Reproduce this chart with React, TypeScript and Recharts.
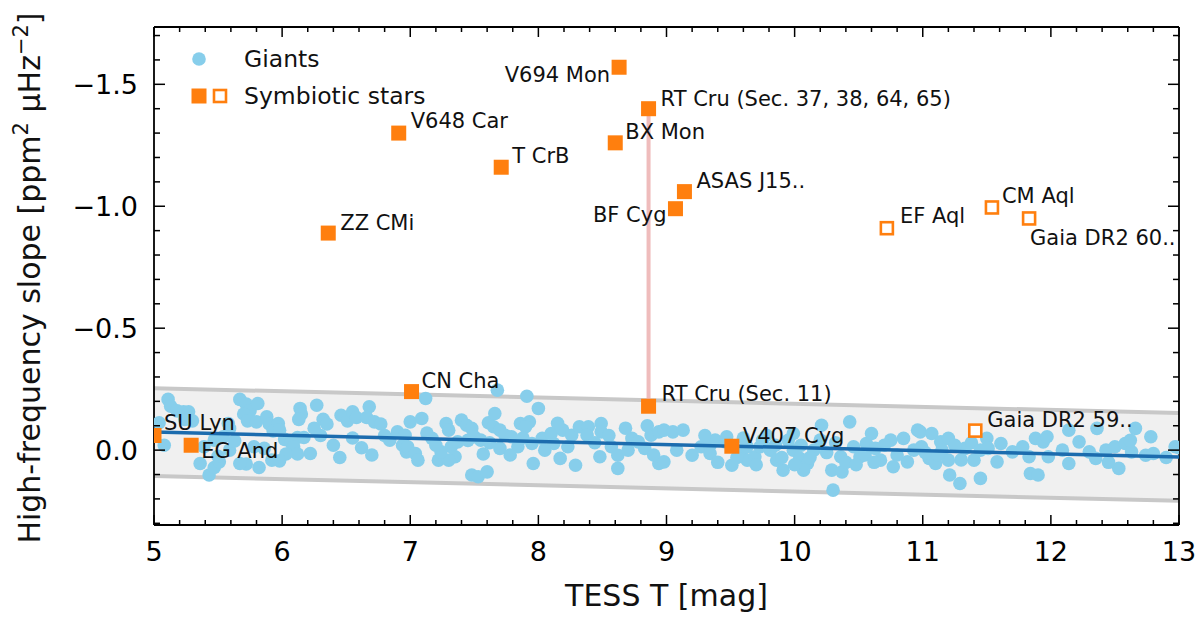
import React from 'react';
import { ComposedChart, Scatter, Area, Line, XAxis, YAxis, Legend, Label } from 'recharts';

// giants: [TESS mag, high-frequency slope]
const giants: [number, number][] = [
  [5.11, -0.208], [5.13, -0.18], [5.04, -0.112], [5.08, -0.02], [5.18, -0.161], [5.23, -0.157], [5.27, -0.157],
  [5.24, -0.126], [5.3, -0.12], [5.36, 0.055], [5.43, 0.102], [5.47, 0.071], [5.51, 0.048], [5.5, 0.025],
  [5.59, 0.0], [5.67, -0.208], [5.72, -0.189], [5.75, -0.161], [5.81, -0.191], [5.7, -0.148], [5.73, -0.12],
  [5.8, -0.116], [5.88, -0.137], [5.9, -0.107], [5.97, -0.109], [5.93, -0.079], [5.98, -0.082], [6.02, -0.044],
  [6.07, -0.03], [6.12, -0.052], [6.09, -0.014], [6.17, -0.052], [6.14, -0.171], [6.15, -0.148], [6.13, -0.126],
  [6.22, 0.014], [6.12, 0.016], [6.03, 0.016], [5.98, 0.044], [5.92, 0.041], [5.82, 0.071], [5.72, 0.057],
  [5.67, 0.055], [5.86, -0.007], [5.78, -0.014], [5.63, -0.038], [5.54, -0.055], [5.47, -0.041], [6.27, -0.184],
  [6.32, -0.126], [6.35, -0.107], [6.46, -0.143], [6.51, -0.12], [6.55, -0.157], [6.58, -0.134], [6.68, -0.178],
  [6.66, -0.134], [6.72, -0.116], [6.77, -0.107], [6.84, -0.041], [6.9, -0.075], [6.96, -0.061], [6.97, 0.007],
  [6.94, -0.02], [5.58, -0.109], [5.39, -0.014], [5.59, -0.089],
  [6.3, -0.06], [6.4, -0.02], [6.45, 0.03], [6.55, -0.05], [6.62, -0.01], [6.7, 0.02], [6.8, -0.06], [6.25, -0.09],
  [7.0, -0.116], [7.09, -0.13], [7.12, -0.212], [6.98, -0.014], [7.04, 0.014], [7.06, 0.041], [7.17, -0.048],
  [7.22, 0.041], [7.28, -0.109], [7.3, -0.082], [7.32, -0.014], [7.35, 0.027], [7.3, 0.041], [7.4, -0.123],
  [7.44, -0.102], [7.48, -0.089], [7.5, -0.055], [7.48, 0.102], [7.53, 0.109], [7.6, 0.089], [7.57, 0.016],
  [7.61, -0.112], [7.66, -0.15], [7.68, -0.246], [7.65, -0.096], [7.7, -0.082], [7.74, -0.061], [7.79, -0.055],
  [7.7, -0.007], [7.84, -0.014], [7.86, -0.109], [7.93, -0.116], [7.91, -0.221], [8.0, -0.171], [7.9, -0.096],
  [7.96, 0.055], [7.95, -0.027], [8.03, -0.048], [8.1, -0.068], [8.19, -0.082], [8.12, -0.027], [8.17, 0.034],
  [8.23, -0.014], [8.29, 0.062], [8.26, -0.061], [8.32, -0.096], [8.39, -0.096], [8.38, -0.061], [8.49, -0.109],
  [8.49, -0.075], [8.48, 0.027], [8.57, -0.014], [8.62, 0.075], [8.62, 0.021], [8.73, -0.048], [8.78, -0.034],
  [8.83, -0.007], [8.88, -0.061], [8.94, -0.075], [8.94, 0.055], [7.55, -0.041], [7.37, -0.034], [7.24, 0.007],
  [7.13, -0.07], [7.2, -0.02], [7.45, -0.04], [7.62, -0.03], [7.78, 0.02], [7.88, -0.05], [8.05, 0.0], [8.15, -0.11],
  [8.44, -0.03], [8.55, -0.06], [8.68, -0.09], [8.7, 0.0], [8.85, -0.1], [8.9, 0.02],
  [8.98, -0.082], [8.98, 0.048], [9.05, -0.075], [9.13, -0.082], [9.08, 0.0], [9.2, 0.021], [9.27, -0.014],
  [9.34, -0.02], [9.38, -0.041], [9.46, -0.034], [9.51, 0.062], [9.59, 0.0], [9.63, 0.041], [9.69, 0.027],
  [9.73, -0.014], [9.81, 0.0], [9.91, 0.082], [9.86, 0.041], [9.99, 0.0], [10.04, 0.034], [10.1, 0.055],
  [10.15, 0.0], [10.21, -0.102], [10.2, -0.041], [10.3, 0.164], [10.29, 0.082], [10.36, 0.027], [10.37, 0.089],
  [10.43, -0.116], [10.46, -0.014], [10.51, 0.027], [10.56, -0.027], [10.6, -0.068], [10.67, 0.041], [10.75, -0.041],
  [10.77, 0.068], [10.85, -0.048], [10.93, 0.0], [10.96, -0.082], [9.47, -0.055], [9.78, -0.061], [9.63, -0.014],
  [9.99, -0.068], [10.07, 0.082], [9.34, 0.014], [10.63, -0.007], [10.88, 0.048],
  [9.3, -0.06], [9.4, 0.05], [9.55, 0.03], [9.6, -0.05], [9.7, 0.06], [9.75, -0.04], [9.85, -0.02], [9.9, 0.03],
  [9.95, -0.04], [10.0, 0.06], [10.05, -0.02], [10.12, 0.03], [10.25, 0.01], [10.32, -0.03], [10.4, 0.05],
  [10.48, 0.06], [10.55, 0.02], [10.62, 0.05], [10.7, -0.02], [10.8, 0.02],
  [10.98, -0.075], [11.07, -0.068], [10.99, -0.014], [11.05, 0.034], [11.1, 0.055], [11.14, -0.034], [11.2, -0.048],
  [11.2, 0.041], [11.21, 0.102], [11.29, 0.137], [11.4, 0.041], [11.45, 0.116], [11.5, -0.048], [11.51, -0.007],
  [11.58, 0.048], [11.61, -0.027], [11.7, 0.007], [11.78, -0.014], [11.83, 0.027], [11.84, 0.096], [11.9, 0.102],
  [11.88, -0.048], [11.94, -0.034], [11.97, -0.055], [11.98, 0.027], [12.14, 0.055], [12.14, -0.082], [12.22, -0.034],
  [12.3, 0.007], [12.36, -0.089], [12.43, 0.0], [12.5, -0.014], [12.53, 0.075], [12.58, -0.027], [12.66, -0.089],
  [12.74, 0.021], [12.78, -0.055], [12.8, 0.014], [12.97, -0.014], [11.15, 0.0], [11.33, -0.007], [12.09, 0.0],
  [12.35, 0.034], [12.63, 0.007],
  [11.02, 0.01], [11.12, 0.02], [11.25, -0.02], [11.3, 0.04], [11.38, -0.03], [11.45, 0.0],
  [12.45, 0.05], [12.62, -0.04], [12.9, 0.03], [13.0, -0.01],
];

// symbiotic stars
const starNames = [
  'SU Lyn', 'EG And', 'ZZ CMi', 'V648 Car', 'CN Cha', 'T CrB', 'BX Mon', 'V694 Mon',
  'RT Cru (Sec. 11)', 'RT Cru (Sec. 37, 38, 64, 65)', 'BF Cyg', 'ASAS J15..', 'V407 Cyg',
  'EF Aql', 'Gaia DR2 59..', 'CM Aql', 'Gaia DR2 60..',
];
const starMag = [5.0, 5.29, 6.36, 6.91, 7.01, 7.71, 8.6, 8.63, 8.86, 8.86, 9.07, 9.14, 9.51, 10.72, 11.41, 11.54, 11.83];
const starSlope = [-0.06, -0.02, -0.89, -1.3, -0.24, -1.16, -1.26, -1.57, -0.18, -1.4, -0.99, -1.06, -0.016, -0.91, -0.08, -0.995, -0.95];
const starFilled = [true, true, true, true, true, true, true, true, true, true, true, true, true, false, false, false, false];

// giant trend and its band
const fitMag = [5, 13];
const fitSlope = [-0.074, 0.028];
const bandLow = [-0.254, -0.152];
const bandHigh = [0.106, 0.208];

const xMajorTicks = [5, 6, 7, 8, 9, 10, 11, 12, 13];
const xMinorTicks = [
  5.2, 5.4, 5.6, 5.8, 6.2, 6.4, 6.6, 6.8, 7.2, 7.4, 7.6, 7.8, 8.2, 8.4, 8.6, 8.8, 9.2, 9.4, 9.6, 9.8,
  10.2, 10.4, 10.6, 10.8, 11.2, 11.4, 11.6, 11.8, 12.2, 12.4, 12.6, 12.8,
];
const yMajorTicks = [-1.5, -1.0, -0.5, 0.0];
const yMinorTicks = [-1.7, -1.6, -1.4, -1.3, -1.2, -1.1, -0.9, -0.8, -0.7, -0.6, -0.4, -0.3, -0.2, -0.1, 0.1, 0.2, 0.3];

const X_DOMAIN = [5, 13];
const Y_DOMAIN = [-1.735, 0.307];

const giantData = giants.map(([mag, slope]) => ({ mag, slope }));
const starData = starNames.map((name, i) => ({ name, mag: starMag[i], slope: starSlope[i], filled: starFilled[i] }));
const rtCruData = starData.filter((d) => d.name.startsWith('RT Cru'));
const bandData = fitMag.map((mag, i) => ({ mag, fit: fitSlope[i], band: [bandLow[i], bandHigh[i]] }));
// keeps the mirrored top/right axes attached to a series
const frameData = [
  { mag: X_DOMAIN[0], slope: Y_DOMAIN[0] },
  { mag: X_DOMAIN[1], slope: Y_DOMAIN[1] },
];

const allXTicks = [...xMajorTicks, ...xMinorTicks].sort((a, b) => a - b);
const allYTicks = [...yMajorTicks, ...yMinorTicks].sort((a, b) => a - b);

const FONT = 'DejaVu Sans, sans-serif';
const ORANGE = '#ff7f0e';
const GIANT = '#87ceeb';

// label placement next to each square: dx, dy (baseline), anchor
const labelPlacement: Record<string, [number, number, 'start' | 'end']> = {
  'SU Lyn': [10, -5, 'start'],
  'EG And': [10, 13, 'start'],
  'ZZ CMi': [12, -3, 'start'],
  'V648 Car': [12, -5, 'start'],
  'CN Cha': [10, -4, 'start'],
  'T CrB': [11, -4, 'start'],
  'BX Mon': [10, -4, 'start'],
  'V694 Mon': [-9, 15, 'end'],
  'RT Cru (Sec. 11)': [13, -5, 'start'],
  'RT Cru (Sec. 37, 38, 64, 65)': [12, -3, 'start'],
  'BF Cyg': [-9, 13, 'end'],
  'ASAS J15..': [12, -4, 'start'],
  'V407 Cyg': [11, -3, 'start'],
  'EF Aql': [13, -5, 'start'],
  'Gaia DR2 59..': [12, -4, 'start'],
  'CM Aql': [10, -4, 'start'],
  'Gaia DR2 60..': [1, 27, 'start'],
};

const fmt = (v: number) => v.toFixed(1).replace('-', '\u2212');

const BottomTick = (props: any) => {
  const { x, y, payload } = props;
  const major = Number.isInteger(payload.value);
  return (
    <g>
      <line x1={x} x2={x} y1={y} y2={y - (major ? 10 : 5)} stroke="#000" strokeWidth={1.5} />
      {major && (
        <text x={x} y={y + 36} textAnchor="middle" fontSize={27} fontFamily={FONT} fill="#000">
          {payload.value}
        </text>
      )}
    </g>
  );
};

const TopTick = (props: any) => {
  const { x, y, payload } = props;
  const major = Number.isInteger(payload.value);
  return <line x1={x} x2={x} y1={y} y2={y + (major ? 10 : 5)} stroke="#000" strokeWidth={1.5} />;
};

const LeftTick = (props: any) => {
  const { x, y, payload } = props;
  const major = yMajorTicks.includes(payload.value);
  return (
    <g>
      <line x1={x} x2={x + (major ? 11 : 6)} y1={y} y2={y} stroke="#000" strokeWidth={1.5} />
      {major && (
        <text x={x - 16} y={y + 10} textAnchor="end" fontSize={27} fontFamily={FONT} fill="#000">
          {fmt(payload.value)}
        </text>
      )}
    </g>
  );
};

const RightTick = (props: any) => {
  const { x, y, payload } = props;
  const major = yMajorTicks.includes(payload.value);
  return <line x1={x} x2={x - (major ? 11 : 6)} y1={y} y2={y} stroke="#000" strokeWidth={1.5} />;
};

const GiantDot = (props: any) => <circle cx={props.cx} cy={props.cy} r={6.8} fill={GIANT} />;

const StarMarker = (props: any) => {
  const { cx, cy, payload } = props;
  const [dx, dy, anchor] = labelPlacement[payload.name] || [10, -4, 'start'];
  return (
    <g>
      {payload.filled ? (
        <rect x={cx - 7.5} y={cy - 7.5} width={15} height={15} fill={ORANGE} />
      ) : (
        <rect x={cx - 6} y={cy - 6} width={12} height={12} fill="#fff" stroke={ORANGE} strokeWidth={2.6} />
      )}
      <text x={cx + dx} y={cy + dy} textAnchor={anchor} fontSize={21} fontFamily={FONT} fill="#111">
        {payload.name}
      </text>
    </g>
  );
};

const NoDot = () => <g />;

const LegendBox = () => (
  <svg width={300} height={80} style={{ overflow: 'visible' }}>
    <circle cx={19} cy={23} r={6.8} fill={GIANT} />
    <text x={64} y={31} fontSize={23.5} fontFamily={FONT} fill="#111">Giants</text>
    <rect x={11.5} y={52.5} width={15} height={15} fill={ORANGE} />
    <rect x={34} y={54} width={12} height={12} fill="#fff" stroke={ORANGE} strokeWidth={2.6} />
    <text x={64} y={68} fontSize={23.5} fontFamily={FONT} fill="#111">Symbiotic stars</text>
  </svg>
);

const YTitle = (props: any) => {
  const vb = props.viewBox || { x: 0, y: 27, height: 498 };
  const x = vb.x + 40;
  const y = vb.y + vb.height / 2 + 2;
  return (
    <text x={x} y={y} transform={`rotate(-90, ${x}, ${y})`} textAnchor="middle" fontSize={30} fontFamily={FONT} fill="#111">
      High-frequency slope [ppm
      <tspan dy={-12} fontSize={21}>2</tspan>
      <tspan dy={12}> μHz</tspan>
      <tspan dy={-12} fontSize={21}>−2</tspan>
      <tspan dy={12}>]</tspan>
    </text>
  );
};

const XTitle = (props: any) => {
  const vb = props.viewBox || { x: 154, y: 525, width: 1025 };
  return (
    <text x={vb.x + vb.width / 2} y={vb.y + 81} textAnchor="middle" fontSize={30} fontFamily={FONT} fill="#111">
      TESS T [mag]
    </text>
  );
};

const axisLine = { stroke: '#000', strokeWidth: 1.8 };

export default function App() {
  return (
    <div style={{ position: 'absolute', left: 0, top: 0, width: 1200, height: 624, background: '#fff', fontFamily: FONT }}>
      <ComposedChart width={1200} height={624} data={bandData} margin={{ top: 26, right: 20, bottom: 0, left: 0 }}>
        <XAxis
          dataKey="mag"
          type="number"
          domain={X_DOMAIN}
          allowDataOverflow
          ticks={allXTicks}
          interval={0}
          height={99}
          tickSize={0}
          tickMargin={0}
          tick={<BottomTick />}
          axisLine={axisLine}
          tickLine={false}
        >
          <Label content={<XTitle />} />
        </XAxis>
        <XAxis
          xAxisId="top"
          orientation="top"
          dataKey="mag"
          type="number"
          domain={X_DOMAIN}
          allowDataOverflow
          ticks={allXTicks}
          interval={0}
          height={1}
          tickSize={0}
          tickMargin={0}
          tick={<TopTick />}
          axisLine={axisLine}
          tickLine={false}
        />
        <YAxis
          type="number"
          domain={Y_DOMAIN}
          allowDataOverflow
          reversed
          ticks={allYTicks}
          interval={0}
          width={154}
          tickSize={0}
          tickMargin={0}
          tick={<LeftTick />}
          axisLine={axisLine}
          tickLine={false}
        >
          <Label content={<YTitle />} />
        </YAxis>
        <YAxis
          yAxisId="right"
          orientation="right"
          type="number"
          domain={Y_DOMAIN}
          allowDataOverflow
          reversed
          ticks={allYTicks}
          interval={0}
          width={1}
          tickSize={0}
          tickMargin={0}
          tick={<RightTick />}
          axisLine={axisLine}
          tickLine={false}
        />
        <Legend
          layout="vertical"
          align="center"
          verticalAlign="middle"
          content={<LegendBox />}
          wrapperStyle={{ left: 180, top: 36, width: 300, height: 80 }}
        />
        <Area
          type="linear"
          dataKey="band"
          fill="#f0f0f0"
          fillOpacity={1}
          stroke="#c8c8c8"
          strokeWidth={4}
          isAnimationActive={false}
          activeDot={false}
          zIndex={100}
        />
        <Scatter
          data={frameData}
          dataKey="slope"
          xAxisId="top"
          yAxisId="right"
          shape={<NoDot />}
          isAnimationActive={false}
          legendType="none"
        />
        <Scatter data={giantData} dataKey="slope" shape={<GiantDot />} isAnimationActive={false} zIndex={600} />
        <Line
          type="linear"
          dataKey="fit"
          stroke="#1c6cae"
          strokeWidth={3.5}
          dot={false}
          activeDot={false}
          isAnimationActive={false}
          zIndex={650}
        />
        <Scatter
          data={rtCruData}
          dataKey="slope"
          shape={<NoDot />}
          line={{ stroke: '#efbcbc', strokeWidth: 4 }}
          isAnimationActive={false}
          zIndex={660}
        />
        <Scatter data={starData} dataKey="slope" shape={<StarMarker />} isAnimationActive={false} zIndex={700} />
      </ComposedChart>
    </div>
  );
}
